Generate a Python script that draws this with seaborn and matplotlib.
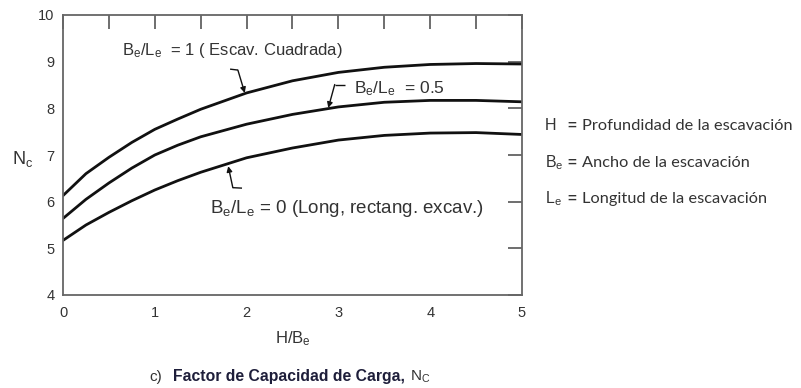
import matplotlib
matplotlib.use("Agg")
import matplotlib.pyplot as plt
from matplotlib.ticker import MultipleLocator
import seaborn as sns
import pandas as pd

# H/Be ratio and bearing capacity factor Nc for three Be/Le ratios
h_over_b = [0, 0.25, 0.5, 0.75, 1.0, 1.25, 1.5, 2.0, 2.5, 3.0, 3.5, 4.0, 4.5, 5.0]
nc_square = [6.13, 6.60, 6.95, 7.27, 7.55, 7.77, 7.98, 8.33, 8.59, 8.77, 8.88, 8.94, 8.96, 8.95]
nc_half = [5.64, 6.05, 6.40, 6.72, 7.00, 7.21, 7.39, 7.66, 7.87, 8.03, 8.13, 8.17, 8.17, 8.14]
nc_long = [5.17, 5.50, 5.77, 6.02, 6.25, 6.45, 6.63, 6.94, 7.15, 7.32, 7.42, 7.47, 7.48, 7.44]
series_names = ["1", "0.5", "0"]

x_ticks = [0, 1, 2, 3, 4, 5]
y_ticks = [4, 5, 6, 7, 8, 9, 10]

sns.set_theme(style="white")
plt.rcParams["font.family"] = ["Liberation Sans", "DejaVu Sans"]
plt.rcParams["mathtext.default"] = "regular"

n = len(h_over_b)
df = pd.DataFrame({
    "H/B": h_over_b * 3,
    "Nc": nc_square + nc_half + nc_long,
    "ratio": [series_names[0]] * n + [series_names[1]] * n + [series_names[2]] * n,
})

fig = plt.figure(figsize=(8.01, 3.88), dpi=100)
ax = fig.add_axes([63 / 801, 93 / 388, (522 - 63) / 801, (295 - 15) / 388])

sns.lineplot(data=df, x="H/B", y="Nc", hue="ratio", hue_order=series_names,
             palette=["#111111"] * 3, linewidth=2.0, legend=False, ax=ax)

ax.set_xlim(0, 5)
ax.set_ylim(4, 10)
ax.set_xticks(x_ticks)
ax.set_yticks(y_ticks)
ax.xaxis.set_minor_locator(MultipleLocator(0.5))
ax.tick_params(axis="both", which="both", direction="in", length=10,
               width=1.2, color="#555555", top=True, right=True,
               labelsize=10.5, labelcolor="#333333")
ax.tick_params(axis="x", pad=8)
ax.tick_params(axis="y", pad=6)
for side in ax.spines.values():
    side.set_color("#666666")
    side.set_linewidth(1.3)

ax.set_xlabel("")
ax.set_ylabel("")

txt = "#333333"
lead = "#111111"
fig.text(12 / 801, 1 - 164 / 388, r"N$_c$", fontsize=13, color=txt,
         ha="left", va="baseline")
fig.text(275 / 801, 1 - 343 / 388, r"H/B$_e$", fontsize=12, color=txt,
         ha="left", va="baseline")


def leader(path):
    """Hooked leader line ending in a small arrowhead at the curve."""
    xs, ys = zip(*path)
    ax.plot(xs[:-1], ys[:-1], color=lead, lw=1.0, solid_capstyle="butt")
    ax.annotate("", xy=path[-1], xytext=path[-2],
                arrowprops=dict(arrowstyle="-|>", color=lead, lw=1.0,
                                mutation_scale=8, shrinkA=0, shrinkB=0))


# curve labels
ax.text(0.64, 9.14, r"B$_e$/L$_e$  = 1 ( Escav. Cuadrada)", fontsize=12,
        color=txt, ha="left", va="baseline")
leader([(1.82, 8.84), (1.905, 8.82), (1.98, 8.33)])

ax.text(3.17, 8.32, r"B$_e$/L$_e$  = 0.5", fontsize=12.5, color=txt,
        ha="left", va="baseline")
leader([(3.07, 8.51), (2.96, 8.51), (2.89, 8.01)])

ax.text(1.60, 5.75, r"B$_e$/L$_e$ = 0 (Long, rectang. excav.)", fontsize=13.5,
        color=txt, ha="left", va="baseline")
leader([(1.95, 6.29), (1.85, 6.30), (1.80, 6.76)])

# symbol definitions
defs = [("H", 130), (r"B$_e$", 167), (r"L$_e$", 203)]
descs = ["Profundidad de la escavación", "Ancho de la escavación",
         "Longitud de la escavación"]
for (sym, yy), desc in zip(defs, descs):
    fig.text(545 / 801, 1 - yy / 388, sym, fontsize=11.5, color=txt,
             ha="left", va="baseline")
    fig.text(572 / 801, 1 - (yy - 4) / 388, "=", fontsize=11, color=txt,
             ha="center", va="center", fontweight="bold")
    fig.text(582 / 801, 1 - yy / 388, desc, fontsize=11.8, color=txt,
             ha="left", va="baseline", family=["Lato", "DejaVu Sans"])

# caption
cy = 1 - 381 / 388
fig.text(149 / 801, cy, "c)", fontsize=11, color=txt, ha="left", va="baseline")
fig.text(173 / 801, cy, "Factor de Capacidad de Carga,", fontsize=11.3,
         color="#1e1e3a", fontweight="bold", ha="left", va="baseline")
fig.text(410 / 801, cy, r"N$_C$", fontsize=11, color=txt, ha="left",
         va="baseline")

fig.savefig("out.png", dpi=100)
